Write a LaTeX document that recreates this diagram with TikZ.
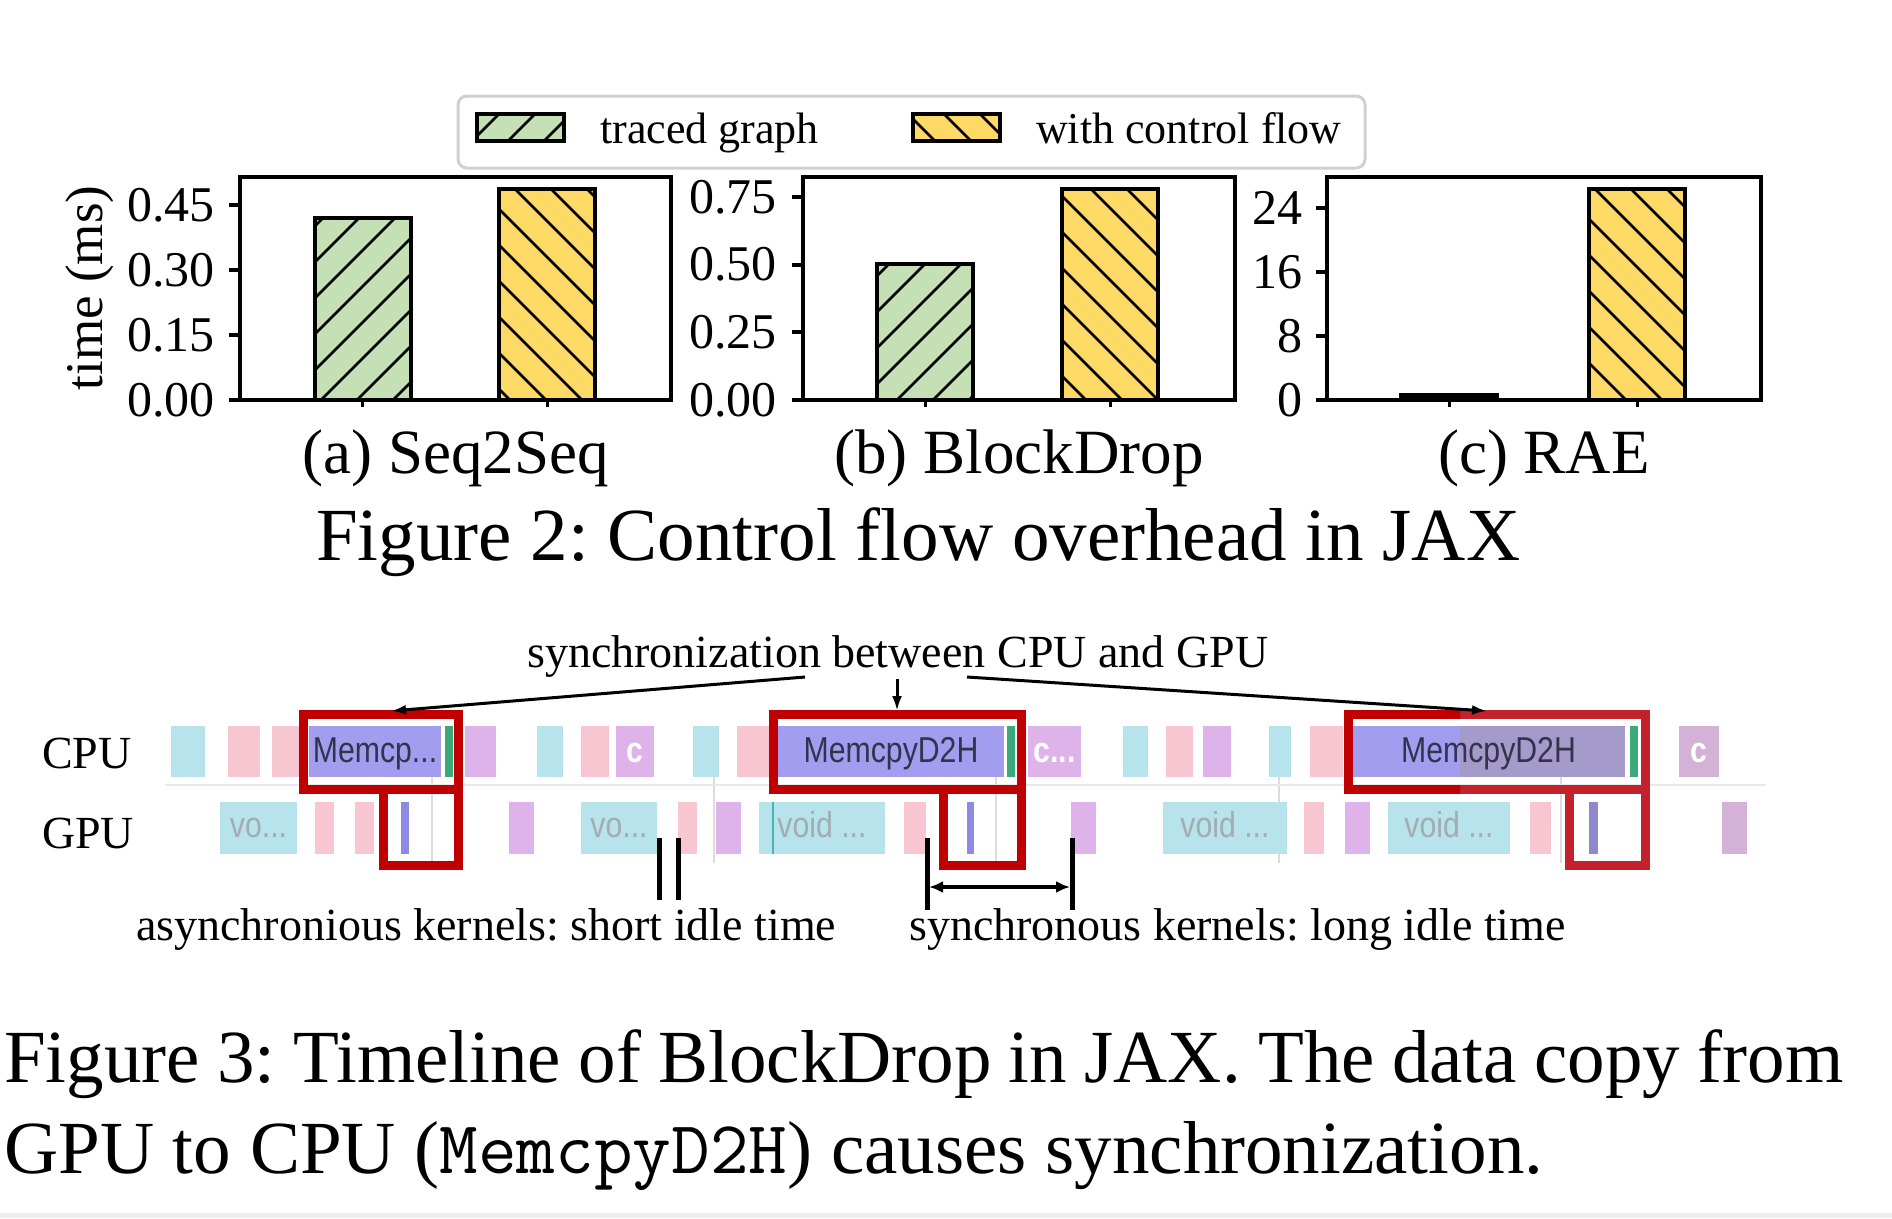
\documentclass[tikz,border=0pt]{standalone}
\usepackage{fontspec}
\usepackage{graphicx}
\setmainfont{Liberation Serif}
\newfontfamily\uisans{Liberation Sans}
\usetikzlibrary{arrows.meta}
\frenchspacing
\definecolor{gfill}{HTML}{C5E0B4}
\definecolor{yfill}{HTML}{FFD966}
\definecolor{cyanb}{HTML}{B7E3EC}
\definecolor{pinkb}{HTML}{F7C6D0}
\definecolor{purpb}{HTML}{DDB3E9}
\definecolor{purpg}{HTML}{D4B1D6}
\definecolor{memb}{HTML}{A39DF0}
\definecolor{memg}{HTML}{A49BCB}
\definecolor{greenb}{HTML}{3BAA7A}
\definecolor{gpum}{HTML}{8E89E4}
\definecolor{gpumg}{HTML}{8F88CF}
\definecolor{redA}{HTML}{C00000}
\definecolor{redB}{HTML}{C3212B}
\definecolor{gridg}{HTML}{DCDCDC}
\definecolor{sepg}{HTML}{E8E8E8}
\definecolor{voidt}{HTML}{A3ACB2}
\definecolor{memt}{HTML}{33334D}
\definecolor{tealt}{HTML}{4FB2B8}
\definecolor{legg}{HTML}{D0D0D0}
\newcommand\fs[1]{\fontsize{#1}{#1}\selectfont}
\newcommand\uitxt[1]{\scalebox{0.84}[1]{#1}}
\tikzset{
  hatchline/.style={line width=2.6pt, black},
  barline/.style={line width=4pt, black},
  axisline/.style={line width=4pt, black},
  xtick/.style={line width=3pt, black},
  ticklab/.style={anchor=east, inner sep=0pt, font=\fs{50}},
  sublab/.style={anchor=base, inner sep=0pt, font=\fs{63}},
  captxt/.style={anchor=base west, inner sep=0pt, font=\fs{75}},
  annot/.style={anchor=base west, inner sep=0pt, font=\fs{46}},
  legtxt/.style={anchor=base west, inner sep=0pt, font=\fs{44}},
  legbox/.style={draw=legg, line width=3pt, rounded corners=9pt},
  redbox/.style={line width=9pt},
  uiblk/.style={inner sep=0pt, anchor=base, font=\uisans\fs{36}},
  gridln/.style={gridg, line width=1.5pt},
  syncarrow/.style={line width=3pt, -{Latex[length=15pt,width=10pt]}},
  idlebar/.style={line width=5pt, black},
  idlearrow/.style={line width=3.5pt, {Latex[length=14pt,width=12pt]}-{Latex[length=14pt,width=12pt]}},
}
% hatched bar: x0 x1 ytop ybot colour dir(1 = /, 2 = \)
\newcommand\hatchbar[6]{%
  \fill[#5] (#1,#3) rectangle (#2,#4);
  \begin{scope}
    \clip (#1,#3) rectangle (#2,#4);
    \ifnum#6=1\relax
      \foreach \k in {13,...,58}{\draw[hatchline] ({1+36*\k-450},450) -- ({1+36*\k-90},90);}
    \else
      \foreach \k in {-45,...,-3}{\draw[hatchline] ({450-34-36*\k},450) -- ({90-34-36*\k},90);}
    \fi
  \end{scope}
  \draw[barline] (#1,#3) rectangle (#2,#4);
}
\newcommand\cblk[3]{\fill[#3] (#1,726) rectangle (#2,777);}
\newcommand\gblk[3]{\fill[#3] (#1,802) rectangle (#2,854);}
\begin{document}
\begin{tikzpicture}[x=1pt,y=-1pt]
\useasboundingbox (0,0) rectangle (1892,1218);
\fill[white] (0,0) rectangle (1892,1218);
\fill[black!7] (0,1213) rectangle (1892,1218);

% ---------------- legend
\draw[legbox] (458,96) rectangle (1365,168);
\hatchbar{477}{564}{114}{141}{gfill}{1}
\hatchbar{913}{1000}{114}{141}{yfill}{2}
\node[legtxt] (legA) at (600,143) {traced graph};
\node[legtxt] (legB) at (1036,143) {with control flow};

% ---------------- panel (a)
\hatchbar{314.5}{410.5}{218}{400}{gfill}{1}
\hatchbar{499}{595}{189}{400}{yfill}{2}
\draw[axisline] (240,177) rectangle (671,400);
\foreach \y/\t [count=\i] in {205/0.45,270/0.30,335/0.15,400/0.00}{
  \draw[axisline] (229,\y) -- (240,\y);
  \node[ticklab] (ta\i) at (215,\y) {\t};
}
\draw[xtick] (362.5,400) -- (362.5,407);
\draw[xtick] (547,400) -- (547,407);
\node[anchor=base, rotate=90, inner sep=0pt, font=\fs{53}] (ylab) at (102,288) {time (ms)};
\node[sublab] (capa) at (455.5,473) {(a) Seq2Seq};

% ---------------- panel (b)
\hatchbar{877}{973}{264}{400}{gfill}{1}
\hatchbar{1062}{1158}{189}{400}{yfill}{2}
\draw[axisline] (803,177) rectangle (1235,400);
\foreach \y/\t [count=\i] in {197/0.75,264.5/0.50,332.3/0.25,400/0.00}{
  \draw[axisline] (792,\y) -- (803,\y);
  \node[ticklab] (tb\i) at (777,\y) {\t};
}
\draw[xtick] (925,400) -- (925,407);
\draw[xtick] (1110,400) -- (1110,407);
\node[sublab] (capb) at (1019,473) {(b) BlockDrop};

% ---------------- panel (c)
\fill[black] (1399,393) rectangle (1499,401);
\hatchbar{1589}{1685}{189}{400}{yfill}{2}
\draw[axisline] (1327,177) rectangle (1761,400);
\foreach \y/\t [count=\i] in {208/24,272/16,336/8,400/0}{
  \draw[axisline] (1316,\y) -- (1327,\y);
  \node[ticklab] (tc\i) at (1303,\y) {\t};
}
\draw[xtick] (1449,400) -- (1449,407);
\draw[xtick] (1637,400) -- (1637,407);
\node[sublab] (capc) at (1544,473) {(c) RAE};

\node[captxt] (fig2) at (316,560) {Figure 2: Control flow overhead in JAX};

% ---------------- timeline
\foreach \x in {432,714,996,1279,1561}{\draw[gridln] (\x,777) -- (\x,863);}
\draw[sepg, line width=2pt] (165,785) -- (1766,785);

% CPU row
\cblk{171}{205}{cyanb}
\cblk{228}{260}{pinkb}
\cblk{272}{303}{pinkb}
\cblk{309}{441}{memb}
\cblk{445}{453}{greenb}
\cblk{465}{496}{purpb}
\cblk{537}{563}{cyanb}
\cblk{581}{609}{pinkb}
\cblk{616}{654}{purpb}
\cblk{693}{719}{cyanb}
\cblk{737}{772}{pinkb}
\cblk{778}{1004}{memb}
\cblk{1007}{1015}{greenb}
\cblk{1028}{1081}{purpb}
\cblk{1123}{1148}{cyanb}
\cblk{1166}{1193}{pinkb}
\cblk{1203}{1231}{purpb}
\cblk{1269}{1291}{cyanb}
\cblk{1310}{1343}{pinkb}
\cblk{1352}{1460}{memb}
\cblk{1460}{1625}{memg}
\cblk{1630}{1638}{greenb}
\cblk{1679}{1719}{purpg}

% GPU row
\gblk{220}{297}{cyanb}
\gblk{315}{334}{pinkb}
\gblk{355}{374}{pinkb}
\gblk{401}{409}{gpum}
\gblk{509}{534}{purpb}
\gblk{581}{657}{cyanb}
\gblk{678}{697}{pinkb}
\gblk{716}{741}{purpb}
\gblk{759}{885}{cyanb}
\draw[tealt, line width=1.5pt] (773,802) -- (773,854);
\gblk{904}{926}{pinkb}
\gblk{967}{974}{gpum}
\gblk{1071}{1096}{purpb}
\gblk{1163}{1287}{cyanb}
\gblk{1304}{1324}{pinkb}
\gblk{1345}{1370}{purpb}
\gblk{1388}{1510}{cyanb}
\gblk{1530}{1551}{pinkb}
\gblk{1589}{1598}{gpumg}
\gblk{1722}{1747}{purpg}

% block texts
\node[uiblk, text=memt] (m1) at (375,762) {\uitxt{Memcp...}};
\node[uiblk, text=memt] (m2) at (891,762) {\uitxt{MemcpyD2H}};
\node[uiblk, text=memt] (m3) at (1488.5,762) {\uitxt{MemcpyD2H}};
\node[uiblk, text=white, font=\uisans\bfseries\fs{36}] (c1) at (635,762) {\uitxt{c}};
\node[uiblk, text=white, font=\uisans\bfseries\fs{36}] (c2) at (1054.5,762) {\uitxt{c...}};
\node[uiblk, text=white, font=\uisans\bfseries\fs{36}] (c3) at (1699,762) {\uitxt{c}};
\node[uiblk, text=voidt] (v1) at (258.5,837) {\uitxt{vo...}};
\node[uiblk, text=voidt] (v2) at (619,837) {\uitxt{vo...}};
\node[uiblk, text=voidt] (v3) at (822,837) {\uitxt{void ...}};
\node[uiblk, text=voidt] (v4) at (1225,837) {\uitxt{void ...}};
\node[uiblk, text=voidt] (v5) at (1449,837) {\uitxt{void ...}};

% red boxes
\draw[redbox, redA] (303.5,714.5) rectangle (458.5,789.5);
\draw[redbox, redA] (383.5,789.5) rectangle (458.5,865.5);
\draw[redbox, redA] (773.5,714.5) rectangle (1021,789.5);
\draw[redbox, redA] (943.5,789.5) rectangle (1021,865.5);
\draw[redbox, redB] (1348.5,714.5) rectangle (1645.5,789.5);
\draw[redbox, redB] (1569.5,789.5) rectangle (1645.5,865.5);
\begin{scope}
  \clip (1330,700) rectangle (1460,800);
  \draw[redbox, redA] (1348.5,714.5) rectangle (1645.5,789.5);
\end{scope}

% labels
\node[annot] (cpu) at (42,768) {CPU};
\node[annot] (gpu) at (42,848) {GPU};
\node[annot] (sync) at (527,667) {synchronization between CPU and GPU};

\coordinate (sL) at (805,677);
\coordinate (sC) at (897,679);
\coordinate (sR) at (967,677);
\coordinate (b1) at (391,711);
\coordinate (b2) at (897,711);
\coordinate (b3) at (1487,711);
\draw[syncarrow] (sL) -- (b1);
\draw[syncarrow] (sC) -- (b2);
\draw[syncarrow] (sR) -- (b3);

% idle markers
\coordinate (sa1) at (659,838); \coordinate (sa2) at (659,900);
\coordinate (sb1) at (678,838); \coordinate (sb2) at (678,900);
\draw[idlebar] (sa1) -- (sa2);
\draw[idlebar] (sb1) -- (sb2);
\coordinate (la1) at (927,838); \coordinate (la2) at (927,910);
\coordinate (lb1) at (1072,838); \coordinate (lb2) at (1072,910);
\draw[idlebar] (la1) -- (la2);
\draw[idlebar] (lb1) -- (lb2);
\coordinate (li1) at (929,887); \coordinate (li2) at (1070,887);
\draw[idlearrow] (li1) -- (li2);

\node[annot] (async) at (136,940) {asynchronious kernels: short idle time};
\node[annot] (synck) at (909,940) {synchronous kernels: long idle time};

% caption
\node[captxt] (fig3a) at (4,1082) {\makebox[1839pt][s]{Figure 3: Timeline of BlockDrop in JAX. The data copy from}};
\node[captxt] (fig3b) at (4,1173) {GPU to CPU (\texttt{MemcpyD2H}) causes synchronization.};
\end{tikzpicture}
\end{document}
